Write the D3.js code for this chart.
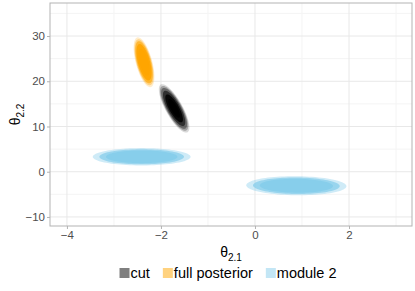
<!DOCTYPE html>
<html>
<head>
<meta charset="utf-8">
<script src="https://cdn.jsdelivr.net/npm/d3@7"></script>
<style>
  body { margin: 0; background: #fff; }
  text { font-family: "Liberation Sans", Arial, sans-serif; }
</style>
</head>
<body>
<svg id="chart"></svg>
<script>
// posterior clouds, summarised as mean / sd / correlation
var groups = ["cut", "full posterior", "module 2"];
var groupColors = ["#000000", "#FFA500", "#87CEEB"];
var cloudGroup = ["module 2", "module 2", "cut", "full posterior"];
var meanX = [-2.41, 0.88, -1.72, -2.36];
var meanY = [3.3, -3.1, 14.0, 24.2];
var sdX = [0.40, 0.41, 0.125, 0.085];
var sdY = [0.74, 0.81, 2.06, 2.12];
var corr = [0.0, -0.05, -0.78, -0.58];

var xTicks = [-4, -2, 0, 2];
var yTicks = [-10, 0, 10, 20, 30];
var xMinor = [-3, -1, 1, 3];
var yMinor = [-5, 5, 15, 25, 35];

var W = 415, H = 291;
var margin = {top: 3, right: 3, bottom: 65, left: 50};
var width = W - margin.left - margin.right,
    height = H - margin.top - margin.bottom;

var svg = d3.select("#chart").attr("width", W).attr("height", H);
var g = svg.append("g")
    .attr("transform", "translate(" + margin.left + "," + margin.top + ")");

var x = d3.scaleLinear().domain([-4.36, 3.34]).range([0, width]);
var y = d3.scaleLinear().domain([-12.0, 37.3]).range([height, 0]);
var color = d3.scaleOrdinal().domain(groups).range(groupColors);

// grid
g.selectAll(".minx").data(xMinor.filter(function(d) { return x(d) > 0 && x(d) < width; }))
  .enter().append("line")
    .attr("x1", function(d) { return x(d); }).attr("x2", function(d) { return x(d); })
    .attr("y1", 0).attr("y2", height)
    .attr("stroke", "#f4f4f4").attr("stroke-width", 1);
g.selectAll(".miny").data(yMinor.filter(function(d) { return y(d) > 0 && y(d) < height; }))
  .enter().append("line")
    .attr("y1", function(d) { return y(d); }).attr("y2", function(d) { return y(d); })
    .attr("x1", 0).attr("x2", width)
    .attr("stroke", "#f4f4f4").attr("stroke-width", 1);
g.selectAll(".majx").data(xTicks)
  .enter().append("line")
    .attr("x1", function(d) { return x(d); }).attr("x2", function(d) { return x(d); })
    .attr("y1", 0).attr("y2", height)
    .attr("stroke", "#e8e8e8").attr("stroke-width", 1);
g.selectAll(".majy").data(yTicks)
  .enter().append("line")
    .attr("y1", function(d) { return y(d); }).attr("y2", function(d) { return y(d); })
    .attr("x1", 0).attr("x2", width)
    .attr("stroke", "#e8e8e8").attr("stroke-width", 1);

// ellipse outline at k standard deviations
var line = d3.line()
    .x(function(p) { return x(p[0]); })
    .y(function(p) { return y(p[1]); })
    .curve(d3.curveLinearClosed);

function ellipse(i, k) {
  var pts = [];
  var r = corr[i];
  for (var a = 0; a < 90; a++) {
    var t = a / 90 * 2 * Math.PI;
    var u = Math.cos(t), v = Math.sin(t);
    pts.push([meanX[i] + k * sdX[i] * u,
              meanY[i] + k * sdY[i] * (r * u + Math.sqrt(1 - r * r) * v)]);
  }
  return pts;
}

// layered ellipses mimic the density of the sample cloud
var layers = {
  "cut": [{k: 2.6, o: 0.15}, {k: 2.4, o: 0.25}, {k: 2.2, o: 0.35}, {k: 1.9, o: 0.55}, {k: 1.5, o: 0.85}, {k: 1.0, o: 1}],
  "full posterior": [{k: 2.6, o: 0.2}, {k: 2.4, o: 0.35}, {k: 2.2, o: 0.6}, {k: 1.9, o: 0.9}, {k: 1.4, o: 1}],
  "module 2": [{k: 2.6, o: 0.4}, {k: 2.25, o: 0.75}, {k: 1.9, o: 1}]
};
var clouds = g.append("g");
d3.range(meanX.length).forEach(function(i) {
  clouds.selectAll(null).data(layers[cloudGroup[i]]).enter().append("path")
    .attr("d", function(l) { return line(ellipse(i, l.k)); })
    .attr("fill", color(cloudGroup[i]))
    .attr("fill-opacity", function(l) { return l.o; });
});

// panel border
g.append("rect").attr("width", width).attr("height", height)
  .attr("fill", "none").attr("stroke", "#b3b3b3").attr("stroke-width", 1);

// axes
var xAxis = g.append("g").attr("transform", "translate(0," + height + ")")
  .call(d3.axisBottom(x).tickValues(xTicks).tickSize(3).tickPadding(2)
        .tickFormat(function(d) { return d < 0 ? "\u2212" + (-d) : d; }));
var yAxis = g.append("g")
  .call(d3.axisLeft(y).tickValues(yTicks).tickSize(3).tickPadding(2)
        .tickFormat(function(d) { return d < 0 ? "\u2212" + (-d) : d; }));
[xAxis, yAxis].forEach(function(a) {
  a.select(".domain").remove();
  a.selectAll(".tick line").attr("stroke", "#b3b3b3");
  a.selectAll(".tick text").attr("fill", "#4d4d4d")
    .style("font-size", "11.5px").style("font-family", "Liberation Sans, Arial, sans-serif");
});

// axis titles
var xt = svg.append("text")
  .attr("x", margin.left + width / 2).attr("y", 257)
  .attr("text-anchor", "middle").style("font-size", "14px").attr("fill", "#000");
xt.append("tspan").text("\u03b8");
xt.append("tspan").attr("dy", 4).style("font-size", "10px").text("2.1");

var yt = svg.append("text")
  .attr("transform", "translate(20," + (margin.top + height / 2) + ") rotate(-90)")
  .attr("text-anchor", "middle").style("font-size", "14px").attr("fill", "#000");
yt.append("tspan").text("\u03b8");
yt.append("tspan").attr("dy", 4).style("font-size", "10px").text("2.2");

// legend
var legend = svg.append("g");
var items = legend.selectAll("g").data(groups).enter().append("g");
items.append("rect").attr("width", 10).attr("height", 10).attr("y", -10)
  .attr("fill", function(d) { return color(d); }).attr("fill-opacity", 0.5);
items.append("text").attr("x", 11).attr("y", 0)
  .style("font-size", "14.5px").attr("fill", "#000").text(function(d) { return d; });
var gap = 13, pos = 0, offs = [];
items.each(function() {
  offs.push(pos);
  pos += 11 + d3.select(this).select("text").node().getComputedTextLength() + gap;
});
pos -= gap;
items.attr("transform", function(d, i) { return "translate(" + offs[i] + ",0)"; });
legend.attr("transform", "translate(" + (margin.left + width / 2 - pos / 2 - 3) + ",278)");
</script>
</body>
</html>
